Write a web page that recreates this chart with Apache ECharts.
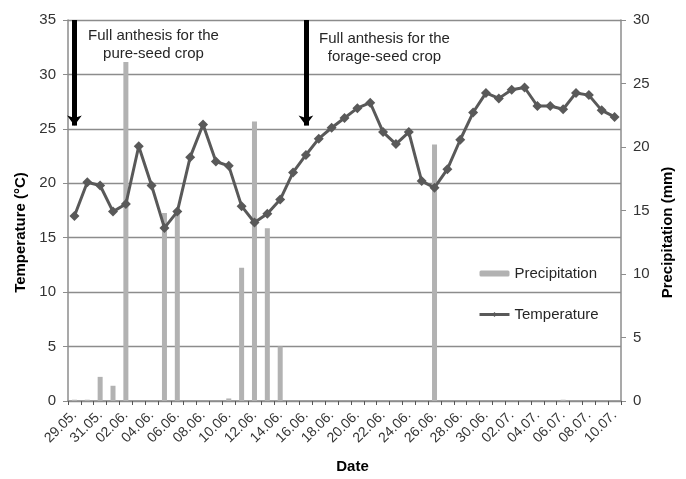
<!DOCTYPE html>
<html>
<head>
<meta charset="utf-8">
<script src="https://cdn.jsdelivr.net/npm/echarts@6/dist/echarts.min.js"></script>
<style>
html,body{margin:0;padding:0;background:#fff;overflow:hidden;}
#chart{width:686px;height:479px;}
</style>
</head>
<body>
<div id="chart"></div>
<script>
const dates = ["29.05.","30.05.","31.05.",
  "01.06.","02.06.","03.06.","04.06.","05.06.","06.06.","07.06.","08.06.","09.06.","10.06.",
  "11.06.","12.06.","13.06.","14.06.","15.06.","16.06.","17.06.","18.06.","19.06.","20.06.",
  "21.06.","22.06.","23.06.","24.06.","25.06.","26.06.","27.06.","28.06.","29.06.","30.06.",
  "01.07.","02.07.","03.07.","04.07.","05.07.","06.07.","07.07.","08.07.","09.07.","10.07."];
const temperature = [17.0,20.1,19.8,17.4,18.1,23.4,19.8,15.9,17.4,22.4,25.4,22.0,21.6,17.9,16.4,17.2,18.5,21.0,22.6,24.1,25.1,26.0,26.9,27.4,24.7,23.6,24.7,20.2,19.6,21.3,24.0,26.5,28.3,27.8,28.6,28.8,27.1,27.1,26.8,28.3,28.1,26.7,26.1];
const precipitation = [0.1,0.1,1.9,1.2,26.7,0,0,14.8,14.8,0,0,0,0.2,10.5,22.0,13.6,4.3,0,0,0,0,0,0,0,0,0,0,0,20.2,0,0,0,0,0,0,0,0,0,0.1,0,0,0,0];
const arrowDates = ["29.05.","16.06."];
const arrowTop = 35, arrowTip = 25.3;
const notes = ["Full anthesis for the\npure-seed crop","Full anthesis for the\nforage-seed crop"];

const chart = echarts.init(document.getElementById('chart'));
const font = 'Liberation Sans, Arial, sans-serif';
chart.setOption({
  animation:false,
  textStyle:{fontFamily:font},
  grid:{left:68,right:65,top:20,bottom:73},
  legend:{
    orient:'vertical', left:478, top:266, padding:0, itemWidth:30, itemHeight:6, itemGap:26,
    textStyle:{fontSize:15,color:'#262626',fontFamily:font},
    data:[
      {name:'Precipitation'},
      {name:'Temperature', lineStyle:{width:3, color:'#595959'}, itemStyle:{color:'#595959'}}
    ]
  },
  xAxis:{
    type:'category', data:dates, boundaryGap:true,
    name:'Date', nameLocation:'middle', nameGap:58,
    nameTextStyle:{fontSize:15,fontWeight:'bold',color:'#000',padding:[0,0,0,16]},
    axisLine:{lineStyle:{color:'#8c8c8c',width:1.5}},
    axisTick:{show:true,interval:0,length:4,lineStyle:{color:'#555'}},
    axisLabel:{interval:1,rotate:45,fontSize:14,color:'#333',margin:12}
  },
  yAxis:[{
    type:'value', min:0, max:35, interval:5,
    name:'Temperature (°C)', nameLocation:'middle', nameGap:38,
    nameTextStyle:{fontSize:15,fontWeight:'bold',color:'#000',padding:[0,44,0,0]},
    axisLine:{show:true,lineStyle:{color:'#8c8c8c',width:1.5}},
    axisTick:{show:true,length:5,lineStyle:{color:'#8c8c8c'}},
    axisLabel:{fontSize:15,color:'#333',margin:12},
    splitLine:{lineStyle:{color:'#8c8c8c',width:1.3}}
  },{
    type:'value', min:0, max:30, interval:5, position:'right',
    name:'Precipitation (mm)', nameLocation:'middle', nameGap:38,
    nameTextStyle:{fontSize:15,fontWeight:'bold',color:'#000',padding:[0,44,0,0]},
    axisLine:{show:true,lineStyle:{color:'#8c8c8c',width:1.5}},
    axisTick:{show:true,length:5,lineStyle:{color:'#8c8c8c'}},
    axisLabel:{fontSize:15,color:'#333',margin:12},
    splitLine:{show:false}
  }],
  series:[{
    name:'Precipitation', type:'bar', yAxisIndex:1, data:precipitation,
    barWidth:5, itemStyle:{color:'#b2b2b2'}, z:1
  },{
    name:'Temperature', type:'line', yAxisIndex:0, data:temperature,
    symbol:'diamond', symbolSize:10, showAllSymbol:true, z:3,
    lineStyle:{color:'#595959',width:3}, itemStyle:{color:'#595959'},
    markLine:{
      silent:true, symbol:['none','arrow'], symbolSize:[11,10],
      label:{show:false},
      lineStyle:{color:'#000',width:5,type:'solid'},
      data:arrowDates.map(d=>[{xAxis:d,yAxis:arrowTop},{xAxis:d,yAxis:arrowTip}])
    }
  }],
  graphic:[
    {type:'text', x:153.5, y:27, style:{text:notes[0], font:'15px '+font, fill:'#262626', textAlign:'center', textVerticalAlign:'top', lineHeight:17.6}},
    {type:'text', x:384.5, y:30.5, style:{text:notes[1], font:'15px '+font, fill:'#262626', textAlign:'center', textVerticalAlign:'top', lineHeight:17.6}}
  ]
});
</script>
</body>
</html>
